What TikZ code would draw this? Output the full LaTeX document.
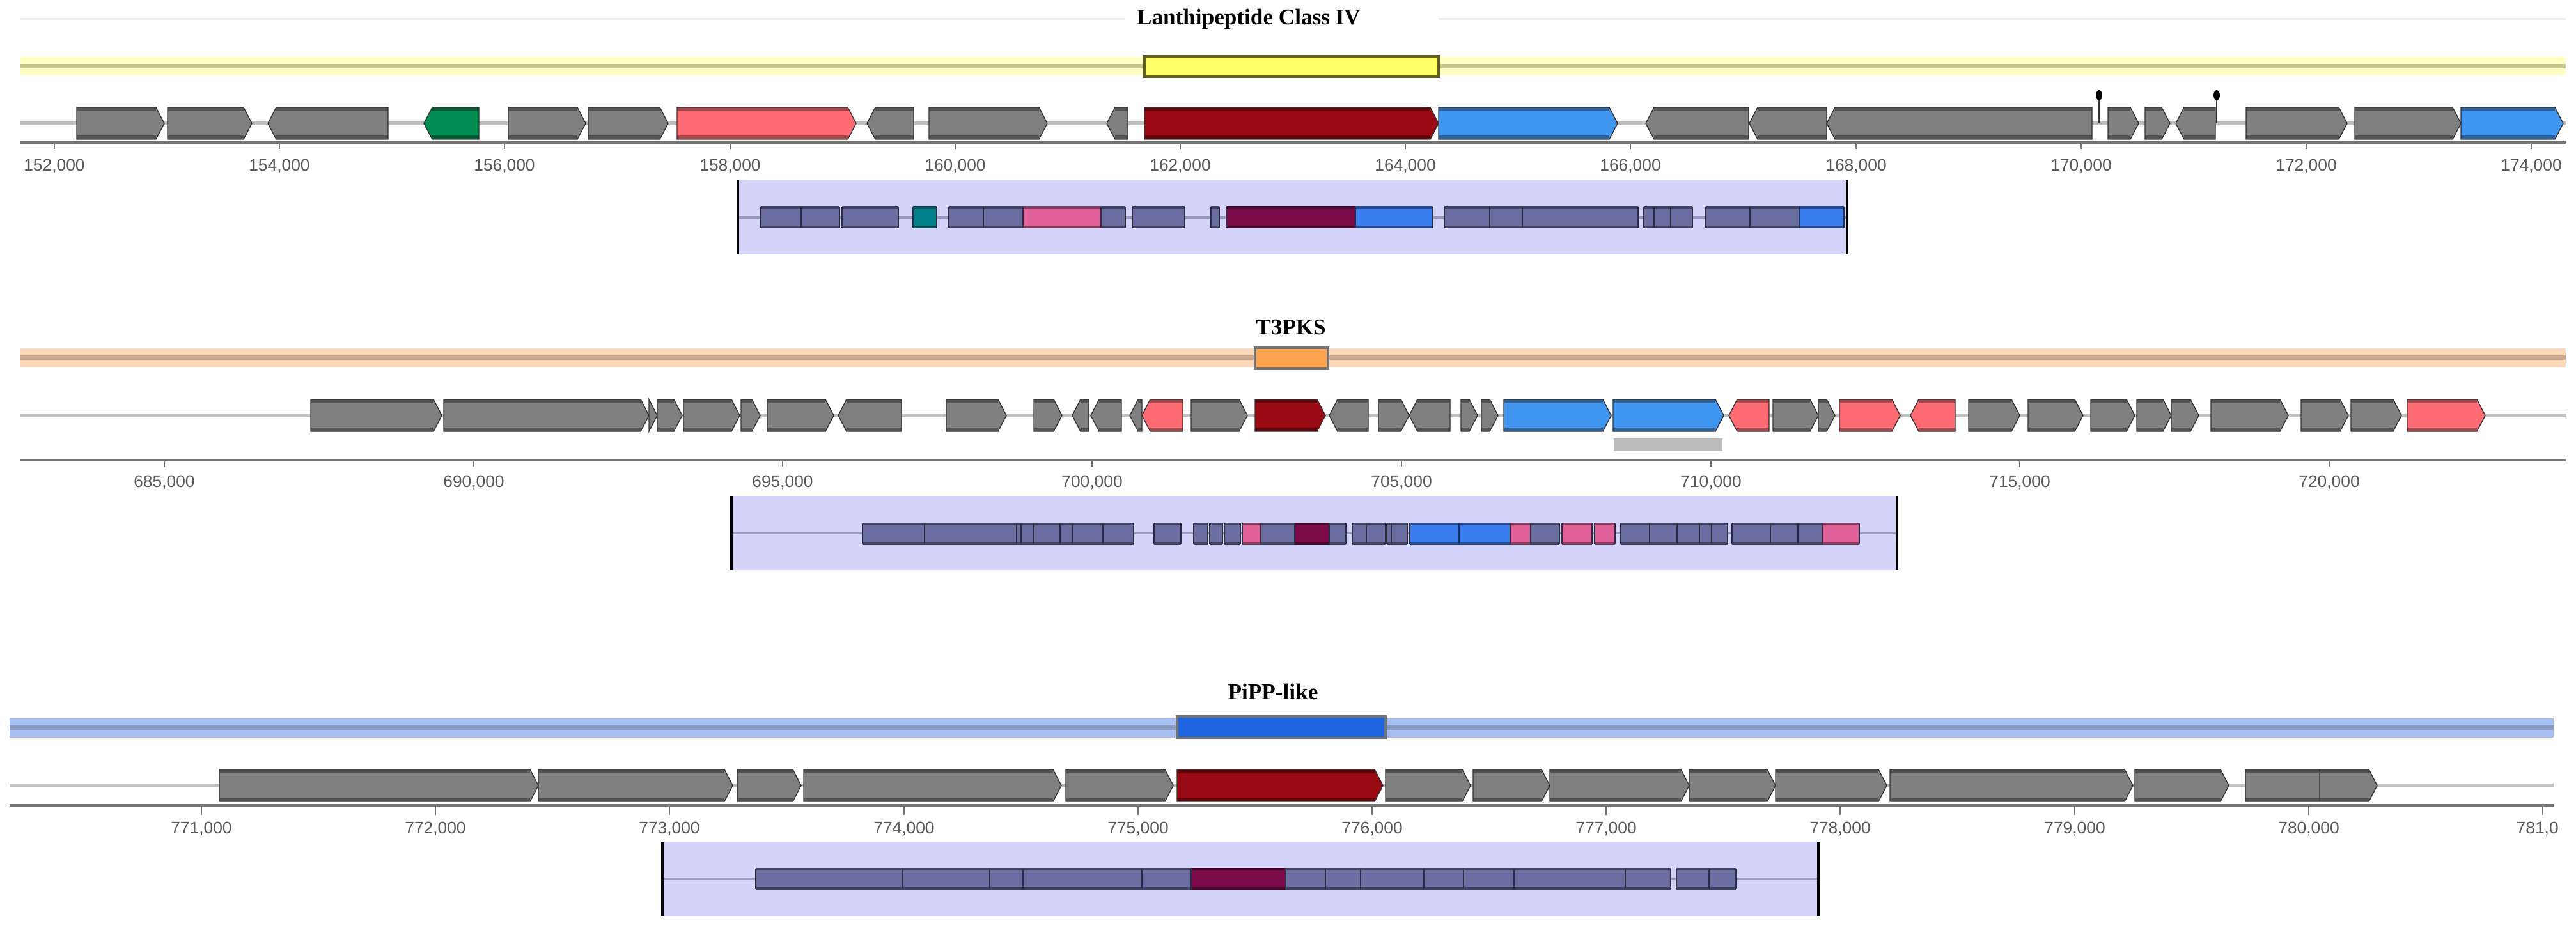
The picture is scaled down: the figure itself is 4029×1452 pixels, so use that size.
\documentclass[tikz,border=0pt]{standalone}
\usepackage{fontspec}
\setmainfont{Liberation Serif}
\setsansfont{Liberation Sans}
\definecolor{gg}{HTML}{808080}
\definecolor{dr}{HTML}{990A12}
\definecolor{sal}{HTML}{FF6B73}
\definecolor{bl}{HTML}{4096EE}
\definecolor{gr}{HTML}{008C50}
\definecolor{sl}{HTML}{6A6EA0}
\definecolor{tl}{HTML}{00808A}
\definecolor{pk}{HTML}{E0609A}
\definecolor{mr}{HTML}{7A0A4A}
\definecolor{bu}{HTML}{3A7EF0}
\definecolor{subbg}{HTML}{D4D4FA}
\definecolor{ybox}{HTML}{FFFF66}
\definecolor{yband}{HTML}{FFFFC4}
\definecolor{ycen}{HTML}{C8C88C}
\definecolor{obox}{HTML}{FFA552}
\definecolor{oband}{HTML}{FFD9BC}
\definecolor{ocen}{HTML}{D0A88E}
\definecolor{bbox}{HTML}{1E66E0}
\definecolor{bband}{HTML}{A6BEF2}
\definecolor{bcen}{HTML}{8A9CC0}
\newcommand\mygene[5]{%
 \pgfmathsetmacro\gt{min(13,#2-#1)}%
 \ifnum#5=1
  \path[fill=#4] (#1,#3-25) -- ({#2-\gt},#3-25) -- (#2,#3) -- ({#2-\gt},#3+25) -- (#1,#3+25) -- cycle;
  \fill[#4!65!black] (#1,#3-25) rectangle ({#2-\gt},#3-19);
  \fill[#4!65!black] (#1,#3+19) rectangle ({#2-\gt},#3+25);
  \draw[black!80,line width=0.4pt] (#1,#3-25) -- ({#2-\gt},#3-25) -- (#2,#3) -- ({#2-\gt},#3+25) -- (#1,#3+25) -- cycle;
 \else
  \path[fill=#4] (#2,#3-25) -- ({#1+\gt},#3-25) -- (#1,#3) -- ({#1+\gt},#3+25) -- (#2,#3+25) -- cycle;
  \fill[#4!65!black] ({#1+\gt},#3-25) rectangle (#2,#3-19);
  \fill[#4!65!black] ({#1+\gt},#3+19) rectangle (#2,#3+25);
  \draw[black!80,line width=0.4pt] (#2,#3-25) -- ({#1+\gt},#3-25) -- (#1,#3) -- ({#1+\gt},#3+25) -- (#2,#3+25) -- cycle;
 \fi}
\newcommand\myblock[4]{%
 \fill[#3] (#1,#4-16) rectangle (#2,#4+16);
 \draw[#3!60!black, line width=1.2pt] (#1,#4-15) -- (#2,#4-15) (#1,#4+15) -- (#2,#4+15);
 \draw[sl!40!black, line width=0.5pt] (#1,#4-16) -- (#1,#4+16) (#2,#4-16) -- (#2,#4+16);}
\tikzset{
 title/.style={font=\fontsize{10}{12}\selectfont\bfseries},
 ticklab/.style={font=\fontsize{7.5}{9}\sffamily, text=black!65},
 backbone/.style={draw=black!25, line width=1.6pt},
 axis/.style={draw=black!55, line width=1.3pt},
 tick/.style={draw=black!55, line width=0.5pt},
 subbb/.style={draw=sl!70, line width=1.3pt},
 edge/.style={draw=black, line width=1pt}
}
\begin{document}
\begin{tikzpicture}[x=0.01cm,y=-0.01cm]
\useasboundingbox (0,0) rectangle (4029,1452);
%% ---------------- Panel 1 ----------------
\draw[black!7, line width=1pt] (32,30) -- (1760,30) (2250,30) -- (4013,30);
\node[title] (t1) at (1953,30) {Lanthipeptide Class IV};
\fill[yband] (32,89) rectangle (4013,118);
\fill[ycen] (32,100) rectangle (4013,107);
\draw[draw=olive!60!black, fill=ybox, line width=1pt] (1790,88) rectangle (2250,120);
\draw[backbone] (32,193) -- (4013,193);
\foreach \a/\b/\d/\c in {120/257/1/gg, 262/394/1/gg, 419/607/-1/gg, 663/749/-1/gr, 795/916/1/gg, 920/1045/1/gg, 1059/1339/1/sal, 1356/1429/-1/gg, 1453/1638/1/gg, 1731/1764/-1/gg, 1790/2250/1/dr, 2250/2530/1/bl, 2574/2735/-1/gg, 2736/2857/-1/gg, 2857/3272/-1/gg, 3297/3345/1/gg, 3355/3394/1/gg, 3403/3465/-1/gg, 3513/3671/1/gg, 3683/3849/1/gg, 3849/4009/1/bl}
 {\mygene{\a}{\b}{193}{\c}{\d}}
\foreach \x in {3283,3467}{
 \draw[black!80, line width=0.6pt] (\x,193) -- (\x,152);
 \fill[black] (\x,149) ellipse (5 and 8);}
\draw[axis] (32,223) -- (4013,223);
\foreach \x/\l in {85/{152,000},437/{154,000},789/{156,000},1142/{158,000},1494/{160,000},1846/{162,000},2198/{164,000},2550/{166,000},2903/{168,000},3255/{170,000},3607/{172,000},3959/{174,000}}
 {\draw[tick] (\x,223) -- (\x,233); \node[ticklab] at (\x,260) {\l};}
\fill[subbg] (1154,281) rectangle (2889,398);
\draw[subbb] (1154,340) -- (2889,340);
\foreach \a/\b/\c in {1190/1253/sl, 1253/1313/sl, 1317/1405/sl, 1428/1465/tl, 1484/1538/sl, 1538/1600/sl, 1600/1722/pk, 1722/1760/sl, 1771/1853/sl, 1894/1907/sl, 1918/2120/mr, 2120/2241/bu, 2259/2330/sl, 2330/2381/sl, 2381/2562/sl, 2571/2587/sl, 2587/2613/sl, 2613/2647/sl, 2668/2737/sl, 2737/2814/sl, 2814/2884/bu}
 {\myblock{\a}{\b}{\c}{340}}
\draw[edge] (1154,281) -- (1154,398) (2889,281) -- (2889,398);
%% ---------------- Panel 2 ----------------
\node[title] (t2) at (2019,512) {T3PKS};
\fill[oband] (32,545) rectangle (4013,575);
\fill[ocen] (32,556) rectangle (4013,563);
\draw[draw=black!55, fill=obox, line width=1pt] (1963,544) rectangle (2077,577);
\draw[backbone] (32,650) -- (4013,650);
\foreach \a/\b/\d/\c in {486/691/1/gg, 694/1015/1/gg, 1015/1028/1/gg, 1028/1067/1/gg, 1069/1157/1/gg, 1159/1189/1/gg, 1200/1304/1/gg, 1311/1410/-1/gg, 1480/1574/1/gg, 1617/1661/1/gg, 1677/1703/-1/gg, 1706/1754/-1/gg, 1767/1786/-1/gg, 1786/1850/-1/sal, 1863/1951/1/gg, 1963/2073/1/dr, 2079/2140/-1/gg, 2156/2204/1/gg, 2204/2268/-1/gg, 2285/2311/1/gg, 2317/2343/1/gg, 2352/2520/1/bl, 2523/2696/1/bl, 2704/2767/-1/sal, 2773/2844/1/gg, 2844/2870/1/gg, 2877/2972/1/sal, 2988/3058/-1/sal, 3079/3159/1/gg, 3172/3258/1/gg, 3270/3339/1/gg, 3342/3396/1/gg, 3396/3439/1/gg, 3458/3579/1/gg, 3599/3673/1/gg, 3677/3756/1/gg, 3765/3887/1/sal}
 {\mygene{\a}{\b}{650}{\c}{\d}}
\fill[black!27] (2524,686) rectangle (2694,706);
\draw[axis] (32,720) -- (4013,720);
\foreach \x/\l in {257/{685,000},741/{690,000},1224/{695,000},1708/{700,000},2192/{705,000},2676/{710,000},3159/{715,000},3643/{720,000}}
 {\draw[tick] (\x,720) -- (\x,730); \node[ticklab] at (\x,755) {\l};}
\fill[subbg] (1144,776) rectangle (2967,892);
\draw[subbb] (1144,834) -- (2967,834);
\foreach \a/\b/\c in {1349/1446/sl,1446/1590/sl,1590/1597/sl,1597/1617/sl,1617/1658/sl,1658/1677/sl,1677/1725/sl,1725/1773/sl,1805/1847/sl,1867/1889/sl,1892/1912/sl,1915/1940/sl,1943/1972/pk,1972/2025/sl,2025/2079/mr,2079/2105/sl,2115/2137/sl,2137/2167/sl,2169/2176/sl,2176/2201/sl,2205/2282/bu,2282/2362/bu,2362/2394/pk,2394/2439/sl,2443/2490/pk,2494/2526/pk,2535/2580/sl,2580/2623/sl,2623/2658/sl,2658/2677/sl,2677/2702/sl,2709/2769/sl,2769/2812/sl,2812/2850/sl,2850/2908/pk}
 {\myblock{\a}{\b}{\c}{835}}
\draw[edge] (1144,776) -- (1144,892) (2967,776) -- (2967,892);
%% ---------------- Panel 3 ----------------
\node[title] (t3) at (1991,1082) {PiPP-like};
\fill[bband] (15,1124) rectangle (3994,1154);
\fill[bcen] (15,1135) rectangle (3994,1142);
\draw[draw=black!55, fill=bbox, line width=1pt] (1841,1121) rectangle (2167,1155);
\draw[backbone] (15,1229) -- (3994,1229);
\foreach \a/\b/\d/\c in {343/842/1/gg, 842/1146/1/gg, 1153/1253/1/gg, 1257/1660/1/gg, 1667/1835/1/gg, 1841/2163/1/dr, 2167/2300/1/gg, 2304/2424/1/gg, 2424/2642/1/gg, 2642/2777/1/gg, 2777/2951/1/gg, 2956/3336/1/gg, 3339/3486/1/gg, 3512/3640/1/gg, 3628/3718/1/gg}
 {\mygene{\a}{\b}{1229}{\c}{\d}}
\draw[axis] (15,1260) -- (3994,1260);
\foreach \x/\l in {315/{771,000},681/{772,000},1047/{773,000},1414/{774,000},1780/{775,000},2146/{776,000},2512/{777,000},2878/{778,000},3245/{779,000},3611/{780,000}}
 {\draw[tick] (\x,1260) -- (\x,1275); \node[ticklab] at (\x,1297) {\l};}
\draw[tick] (3977,1260) -- (3977,1275);
\node[ticklab, anchor=west, inner sep=0pt] at (3935,1297) {781,0};
\fill[subbg] (1036,1317) rectangle (2844,1434);
\draw[subbb] (1036,1375) -- (2844,1375);
\foreach \a/\b/\c in {1182/1411/sl,1411/1548/sl,1548/1600/sl,1600/1786/sl,1786/1863/sl,1863/2011/mr,2011/2073/sl,2073/2128/sl,2128/2227/sl,2227/2289/sl,2289/2368/sl,2368/2542/sl,2542/2613/sl,2622/2673/sl,2673/2715/sl}
 {\myblock{\a}{\b}{\c}{1375}}
\draw[edge] (1036,1317) -- (1036,1434) (2844,1317) -- (2844,1434);
\end{tikzpicture}
\end{document}
